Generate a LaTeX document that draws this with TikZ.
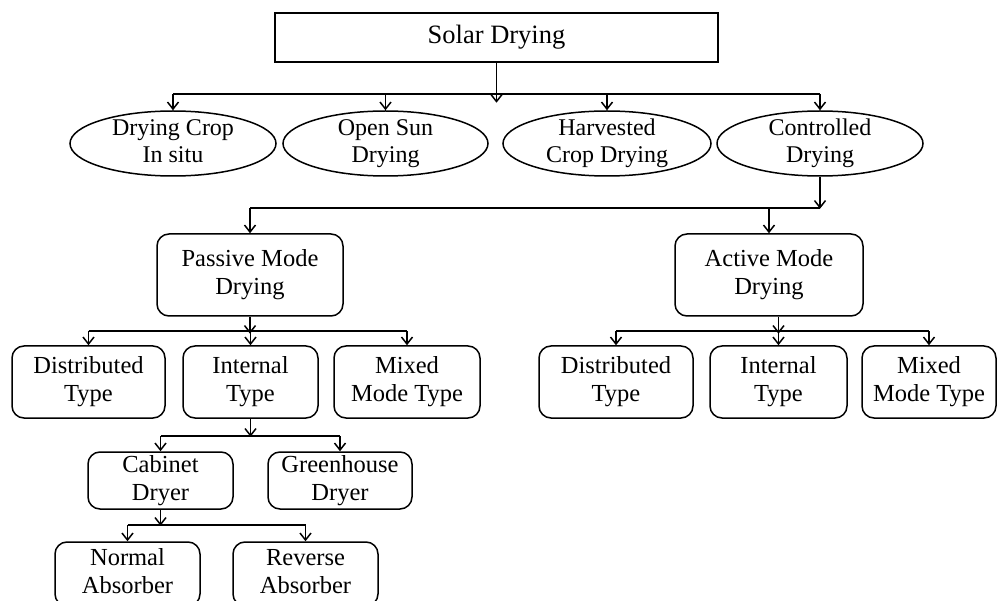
\documentclass[tikz,border=0pt]{standalone}
\usepackage{fontspec}
\setmainfont{Liberation Serif}
\usetikzlibrary{shapes.geometric,arrows.meta}

\tikzset{
  oval/.style={draw,ellipse,line width=1.5pt,minimum width=206pt,minimum height=65pt,inner xsep=0pt,inner ysep=-6pt,align=center,font=\fontsize{24}{27}\selectfont},
  rbox/.style={draw,rounded corners=12pt,line width=1.5pt,inner sep=0pt,align=center,font=\fontsize{24.5}{28}\selectfont},
  link/.style={line width=1.5pt}
}

\begin{document}
\begin{tikzpicture}[x=1pt,y=-1pt,>={Straight Barb[length=7pt,width=11pt]}]
			\useasboundingbox (0,0) rectangle (998,601);
			
			\node[draw,line width=1.5pt,minimum width=443pt,minimum height=49pt,font=\fontsize{26.5}{30}\selectfont] (solar) at (496.5,37.5) {Solar Drying};
			
			\node[oval] (insitu) at (173,143.5) {\strut Drying Crop\\In situ\strut};
			\node[oval,minimum width=205pt] (opensun) at (385.5,143.5) {\strut Open Sun\\Drying\strut};
			\node[oval,minimum width=208pt] (harvest) at (607,143.5) {\strut Harvested\\Crop Drying\strut};
			\node[oval] (control) at (820,143.5) {\strut Controlled\\Drying\strut};
			
			\node[rbox,minimum width=186pt,minimum height=82pt] (passive) at (250,275) {\strut Passive Mode\\Drying\strut};
			\node[rbox,minimum width=188pt,minimum height=82pt] (active) at (769,275) {\strut Active Mode\\Drying\strut};
			
			\node[rbox,minimum width=153pt,minimum height=72pt] (pdist) at (88.5,382) {\strut Distributed\\Type\strut};
			\node[rbox,minimum width=135pt,minimum height=72pt] (pint) at (250.5,382) {\strut Internal\\Type\strut};
			\node[rbox,minimum width=146pt,minimum height=72pt] (pmix) at (407,382) {\strut Mixed\\Mode Type\strut};
			
			\node[rbox,minimum width=154pt,minimum height=72pt] (adist) at (616,382) {\strut Distributed\\Type\strut};
			\node[rbox,minimum width=137pt,minimum height=72pt] (aint) at (778.5,382) {\strut Internal\\Type\strut};
			\node[rbox,minimum width=134pt,minimum height=72pt] (amix) at (929,382) {\strut Mixed\\Mode Type\strut};
			
			\node[rbox,minimum width=145pt,minimum height=57pt] (cabinet) at (160.5,480.5) {\strut Cabinet\\Dryer\strut};
			\node[rbox,minimum width=144pt,minimum height=57pt] (green) at (340,480.5) {\strut Greenhouse\\Dryer\strut};
			
			\node[rbox,minimum width=145pt,minimum height=64pt] (normal) at (127.5,574) {\strut Normal\\Absorber\strut};
			\node[rbox,minimum width=145pt,minimum height=64pt] (reverse) at (305.5,574) {\strut Reverse\\Absorber\strut};
			
			% bus lines
			\coordinate (topbus) at (496.5,94);
			\coordinate (ctrlbus) at (820,208);
			\coordinate (pbus) at (250,331);
			\coordinate (abus) at (778.5,331);
			\coordinate (ibus) at (250.5,436);
			\coordinate (cbus) at (160.5,525);
			
			\draw[link,->] (solar.south) -- ++(0,40);
			\draw[link] (topbus -| insitu.north) -- (topbus -| control.north);
			\foreach \n in {insitu,opensun,harvest,control}
				\draw[link,->] (topbus -| \n.north) -- (\n.north);
			
			\draw[link,->] (control.south) -- ++(0,32);
			\draw[link] (ctrlbus -| passive.north) -- (ctrlbus);
			\foreach \n in {passive,active}
				\draw[link,->] (ctrlbus -| \n.north) -- (\n.north);
			
			\draw[link,->] (passive.south) -- ++(0,17);
			\draw[link] (pbus -| pdist.north) -- (pbus -| pmix.north);
			\foreach \n in {pdist,pint,pmix}
				\draw[link,->] (pbus -| \n.north) -- (\n.north);
			
			\draw[link,->] (active.south -| aint.north) -- ++(0,17);
			\draw[link] (abus -| adist.north) -- (abus -| amix.north);
			\foreach \n in {adist,aint,amix}
				\draw[link,->] (abus -| \n.north) -- (\n.north);
			
			\draw[link,->] (pint.south) -- ++(0,18);
			\draw[link] (ibus -| cabinet.north) -- (ibus -| green.north);
			\foreach \n in {cabinet,green}
				\draw[link,->] (ibus -| \n.north) -- (\n.north);
			
			\draw[link,->] (cabinet.south) -- ++(0,16);
			\draw[link] (cbus -| normal.north) -- (cbus -| reverse.north);
			\foreach \n in {normal,reverse}
				\draw[link,->] (cbus -| \n.north) -- (\n.north);
\end{tikzpicture}
\end{document}
